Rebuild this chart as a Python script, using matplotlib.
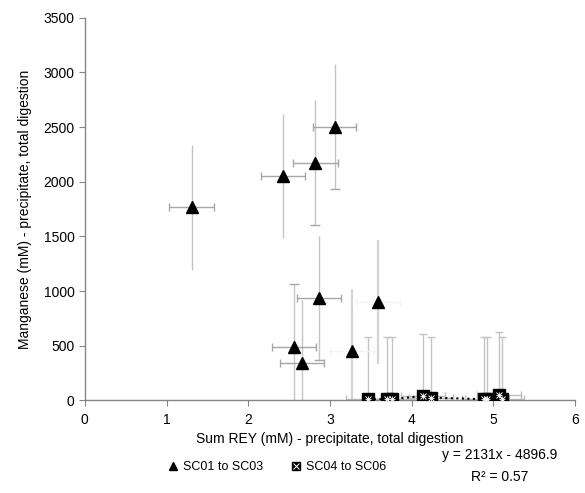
import matplotlib
matplotlib.use('Agg')
import matplotlib.pyplot as plt
from matplotlib.legend_handler import HandlerTuple
from matplotlib.lines import Line2D

plt.rcParams['font.family'] = ['Liberation Sans', 'DejaVu Sans']

# SC01 to SC03 (triangles); last two drawn with fainter error bars
sc13_x = [1.31, 2.43, 2.82, 3.06, 2.87, 2.56, 2.66]
sc13_y = [1765, 2050, 2175, 2505, 935, 490, 345]
sc13_xerr = [0.275, 0.27, 0.275, 0.265, 0.27, 0.27, 0.27]
sc13_yerr = [570, 565, 575, 570, 570, 570, 572]
# which ends of the vertical bars carry a cap (top, bottom)
sc13_caps = [(False, False), (False, False), (False, True), (False, True),
             (False, True), (True, False), (False, False)]

sc13b_x = [3.27, 3.59]
sc13b_y = [455, 900]
sc13b_xerr = [0.265, 0.27]
sc13b_yerr = [565, 567]

# SC04 to SC06 (crossed squares)
sc46_x = [3.47, 3.70, 3.76, 4.14, 4.24, 4.885, 4.925, 5.065, 5.10]
sc46_y = [10, 10, 10, 40, 25, 10, 10, 50, 15]
sc46_xerr = [0.27] * 9
sc46_yerr = [567, 567, 567, 567, 552, 567, 567, 572, 562]

xticks = [0, 1, 2, 3, 4, 5, 6]
yticks = [0, 500, 1000, 1500, 2000, 2500, 3000, 3500]

fig = plt.figure(figsize=(5.85, 4.93), dpi=100)
ax = fig.add_axes([0.145, 0.188, 0.838, 0.776])

ebar_v = '#c4c4c4'
ebar_h = '#a6a6a6'

# vertical error bars
ax.errorbar(sc13_x, sc13_y, yerr=sc13_yerr, fmt='none', ecolor=ebar_v,
            elinewidth=1.0, capsize=0, zorder=1)
cap_x = [x for x, c in zip(sc13_x, sc13_caps) if c[0]] + \
        [x for x, c in zip(sc13_x, sc13_caps) if c[1]]
cap_y = [y + e for y, e, c in zip(sc13_y, sc13_yerr, sc13_caps) if c[0]] + \
        [y - e for y, e, c in zip(sc13_y, sc13_yerr, sc13_caps) if c[1]]
ax.plot(cap_x, cap_y, linestyle='none', marker='_', color=ebar_h,
        markersize=7, markeredgewidth=1.0, zorder=1)
ax.errorbar(sc13b_x, sc13b_y, yerr=sc13b_yerr, fmt='none', ecolor='#d4d4d4',
            elinewidth=1.6, capsize=0, zorder=1)
ax.errorbar(sc46_x, sc46_y, yerr=sc46_yerr, fmt='none', ecolor=ebar_v,
            elinewidth=1.0, capsize=3, capthick=1.0, zorder=1)
# horizontal error bars
ax.errorbar(sc13_x, sc13_y, xerr=sc13_xerr, fmt='none', ecolor=ebar_h,
            elinewidth=1.0, capsize=3, capthick=1.0, zorder=1)
eb = ax.errorbar(sc13b_x, sc13b_y, xerr=sc13b_xerr, fmt='none', ecolor='#f4f4f4',
                 elinewidth=1.0, capsize=3, capthick=1.0, zorder=1)
for cap in eb[1]:
    cap.set_color('#c8c8c8')
ax.errorbar(sc46_x, sc46_y, xerr=sc46_xerr, fmt='none', ecolor='#bdbdbd',
            elinewidth=1.0, capsize=3, capthick=1.0, zorder=1)

# markers
ax.plot(sc13_x + sc13b_x, sc13_y + sc13b_y, linestyle='none', marker='^',
        color='black', markersize=9, zorder=3)
ax.plot(sc46_x, sc46_y, linestyle=':', color='black', linewidth=1.5,
        marker='s', markersize=9, zorder=3)
ax.plot(sc46_x, sc46_y, linestyle='none', marker='x', color='white',
        markersize=5, markeredgewidth=0.7, zorder=4)
ax.plot(sc46_x, sc46_y, linestyle='none', marker='+', color='white',
        markersize=5, markeredgewidth=0.6, zorder=4)

ax.set_xlim(0, 6)
ax.set_ylim(0, 3500)
ax.set_xticks(xticks)
ax.set_yticks(yticks)
for side in ['top', 'right']:
    ax.spines[side].set_visible(False)
for side in ['left', 'bottom']:
    ax.spines[side].set_color('#868686')
    ax.spines[side].set_linewidth(1.0)
ax.tick_params(axis='both', direction='out', length=4, color='#868686',
               labelsize=10, labelcolor='black')
ax.tick_params(axis='x', pad=5)
ax.set_xlabel('Sum REY (mM) - precipitate, total digestion', fontsize=10, labelpad=4)
ax.set_ylabel('Manganese (mM) - precipitate, total digestion', fontsize=10, labelpad=8)

h1 = Line2D([], [], linestyle='none', marker='^', color='black', markersize=6)
h2a = Line2D([], [], linestyle='none', marker='s', color='black', markersize=6)
h2b = Line2D([], [], linestyle='none', marker='x', color='white', markersize=4,
             markeredgewidth=0.7)
fig.legend([h1, (h2a, h2b)], ['SC01 to SC03', 'SC04 to SC06'],
           handler_map={tuple: HandlerTuple(ndivide=1)},
           loc='center', bbox_to_anchor=(277 / 585, 1 - 467 / 493), ncol=2,
           frameon=False, fontsize=9, handlelength=0.8, handletextpad=0.4,
           columnspacing=2.2)

fig.text(500 / 585, 1 - 455 / 493, 'y = 2131x - 4896.9', ha='center', va='center', fontsize=10)
fig.text(500 / 585, 1 - 477 / 493, 'R² = 0.57', ha='center', va='center', fontsize=10)

fig.savefig('out.png', dpi=100)
